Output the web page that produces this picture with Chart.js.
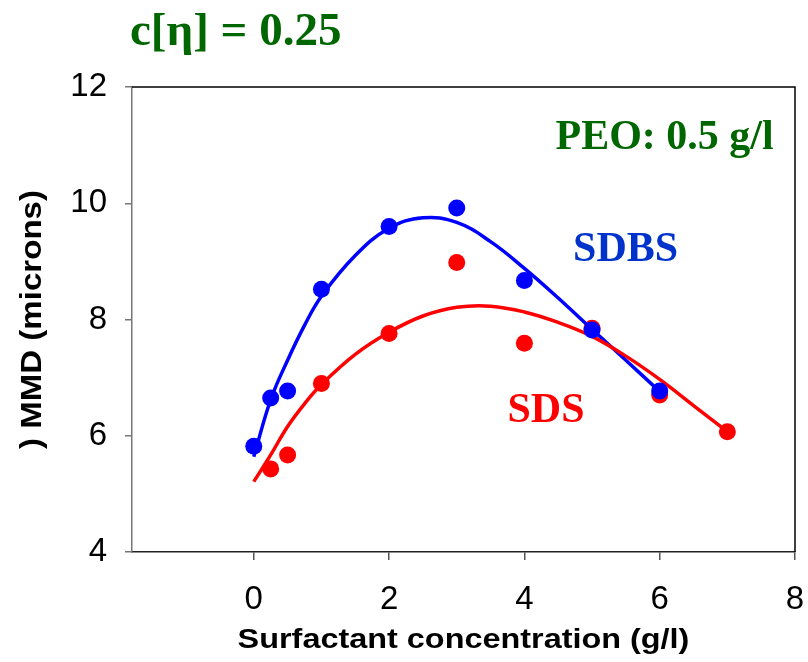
<!DOCTYPE html>
<html>
<head>
<meta charset="utf-8">
<script src="https://cdn.jsdelivr.net/npm/chart.js@4"></script>
<style>
  body { margin: 0; background: #fff; }
  #wrap { width: 808px; height: 662px; }
</style>
</head>
<body>
<div id="wrap"><canvas id="myChart" width="808" height="662"></canvas></div>
<script>
// ---------------- data ----------------
const sdbsX = [0, 0.25, 0.5, 1, 2, 3, 4, 5, 6];
const sdbsY = [5.82, 6.65, 6.77, 8.52, 9.6, 9.92, 8.67, 7.82, 6.77];
const sdsX = [0.25, 0.5, 1, 2, 3, 4, 5, 6, 7];
const sdsY = [5.43, 5.67, 6.9, 7.76, 8.98, 7.59, 7.85, 6.7, 6.07];

// fitted curves
const fitX = [0, 0.25, 0.5, 0.75, 1, 1.5, 2, 2.5, 3, 3.5, 4, 4.5, 5, 5.5, 6, 6.5, 7];
const sdbsFit = [5.64, 6.62, 7.3, 7.9, 8.4, 9.1, 9.57, 9.75, 9.67, 9.34, 8.88, 8.37, 7.83, 7.3, 6.76];
const sdsFit = [5.21, 5.67, 6.16, 6.55, 6.88, 7.4, 7.78, 8.06, 8.21, 8.23, 8.13, 7.95, 7.71, 7.37, 6.97, 6.52, 6.07];

const xTicks = [0, 2, 4, 6, 8];
const yTicks = [4, 6, 8, 10, 12];

const toXY = (xs, ys) => ys.map((y, i) => ({ x: xs[i], y: y }));

// ---------------- text / frame ----------------
const GREEN = "#006600";
const serif = "'Liberation Serif', 'Times New Roman', serif";
const sans = "'Liberation Sans', Arial, sans-serif";

const labels = [
  { text: "PEO: 0.5 g/l", x: 4.46, y: 10.93, color: GREEN },
  { text: "SDBS", x: 4.72, y: 9.0, color: "#0033CC" },
  { text: "SDS", x: 3.75, y: 6.24, color: "#FF0000" },
];

const decorPlugin = {
  id: "decor",
  afterDatasetsDraw(chart) {
    const { ctx, chartArea, scales } = chart;
    ctx.save();
    // top + right frame
    ctx.strokeStyle = "#000";
    ctx.lineWidth = 1.5;
    ctx.beginPath();
    ctx.moveTo(chartArea.left, chartArea.top);
    ctx.lineTo(chartArea.right, chartArea.top);
    ctx.lineTo(chartArea.right, chartArea.bottom);
    ctx.stroke();

    // labels inside plot
    ctx.font = "bold 42px " + serif;
    ctx.textAlign = "left";
    ctx.textBaseline = "alphabetic";
    labels.forEach((l) => {
      ctx.fillStyle = l.color;
      ctx.fillText(l.text, scales.x.getPixelForValue(l.x), scales.y.getPixelForValue(l.y));
    });
    ctx.restore();
  },
  afterDraw(chart) {
    const { ctx, chartArea } = chart;
    ctx.save();
    // title
    ctx.fillStyle = GREEN;
    ctx.font = "bold 47px " + serif;
    ctx.textAlign = "left";
    ctx.textBaseline = "alphabetic";
    ctx.fillText("c[\u03B7] = 0.25", 130, 45);

    // x title (stretched like the original)
    ctx.fillStyle = "#000";
    ctx.font = "bold 27px " + sans;
    ctx.textAlign = "center";
    ctx.translate((chartArea.left + chartArea.right) / 2, 648);
    ctx.scale(1.2, 1);
    ctx.fillText("Surfactant concentration (g/l)", 0, 0);
    ctx.restore();

    // y title
    ctx.save();
    ctx.fillStyle = "#000";
    ctx.font = "bold 29px " + sans;
    ctx.textAlign = "center";
    ctx.textBaseline = "middle";
    ctx.translate(33, (chartArea.top + chartArea.bottom) / 2);
    ctx.rotate(-Math.PI / 2);
    ctx.scale(1.14, 1);
    ctx.fillText(") MMD (microns)", 0, 0);
    ctx.restore();
  },
};

// ---------------- chart ----------------
const data = {
  datasets: [
    {
      label: "SDBS",
      data: toXY(sdbsX, sdbsY),
      showLine: false,
      pointRadius: 8.5,
      pointHoverRadius: 8.5,
      pointBackgroundColor: "#0000FF",
      pointBorderWidth: 0,
      order: 0,
    },
    {
      label: "SDS fit",
      data: toXY(fitX, sdsFit),
      showLine: true,
      borderColor: "#FF0000",
      borderWidth: 3.5,
      pointRadius: 0,
      tension: 0.4,
      fill: false,
      order: 1,
    },
    {
      label: "SDBS fit",
      data: toXY(fitX, sdbsFit),
      showLine: true,
      borderColor: "#0000FF",
      borderWidth: 3.5,
      pointRadius: 0,
      tension: 0.4,
      fill: false,
      order: 2,
    },
    {
      label: "SDS",
      data: toXY(sdsX, sdsY),
      showLine: false,
      pointRadius: 8.5,
      pointHoverRadius: 8.5,
      pointBackgroundColor: "#FF0000",
      pointBorderWidth: 0,
      order: 3,
    },
  ],
};

const config = {
  type: "scatter",
  data: data,
  options: {
    responsive: false,
    animation: false,
    layout: { padding: { top: 87, right: 13, left: 0, bottom: 0 } },
    plugins: {
      legend: { display: false },
      tooltip: { enabled: false },
    },
    scales: {
      x: {
        type: "linear",
        min: -1.8,
        max: 8,
        afterBuildTicks: (s) => { s.ticks = xTicks.map((v) => ({ value: v })); },
        afterFit: (s) => { s.height = 110; s.paddingLeft = 0; s.paddingRight = 0; },
        grid: { drawOnChartArea: false, tickLength: 8, color: "#555", lineWidth: 1.5 },
        border: { color: "#222", width: 1.5 },
        ticks: { font: { size: 33, family: sans }, color: "#000", padding: 20, maxRotation: 0 },
      },
      y: {
        min: 4,
        max: 12,
        afterBuildTicks: (s) => { s.ticks = yTicks.map((v) => ({ value: v })); },
        afterFit: (s) => { s.width = 132; s.paddingTop = 0; s.paddingBottom = 0; },
        grid: { drawOnChartArea: false, tickLength: 7, color: "#777", lineWidth: 1.5 },
        border: { color: "#777", width: 1.5 },
        ticks: { font: { size: 33, family: sans }, color: "#000", padding: 18 },
      },
    },
  },
  plugins: [decorPlugin],
};

new Chart(document.getElementById("myChart"), config);
</script>
</body>
</html>
